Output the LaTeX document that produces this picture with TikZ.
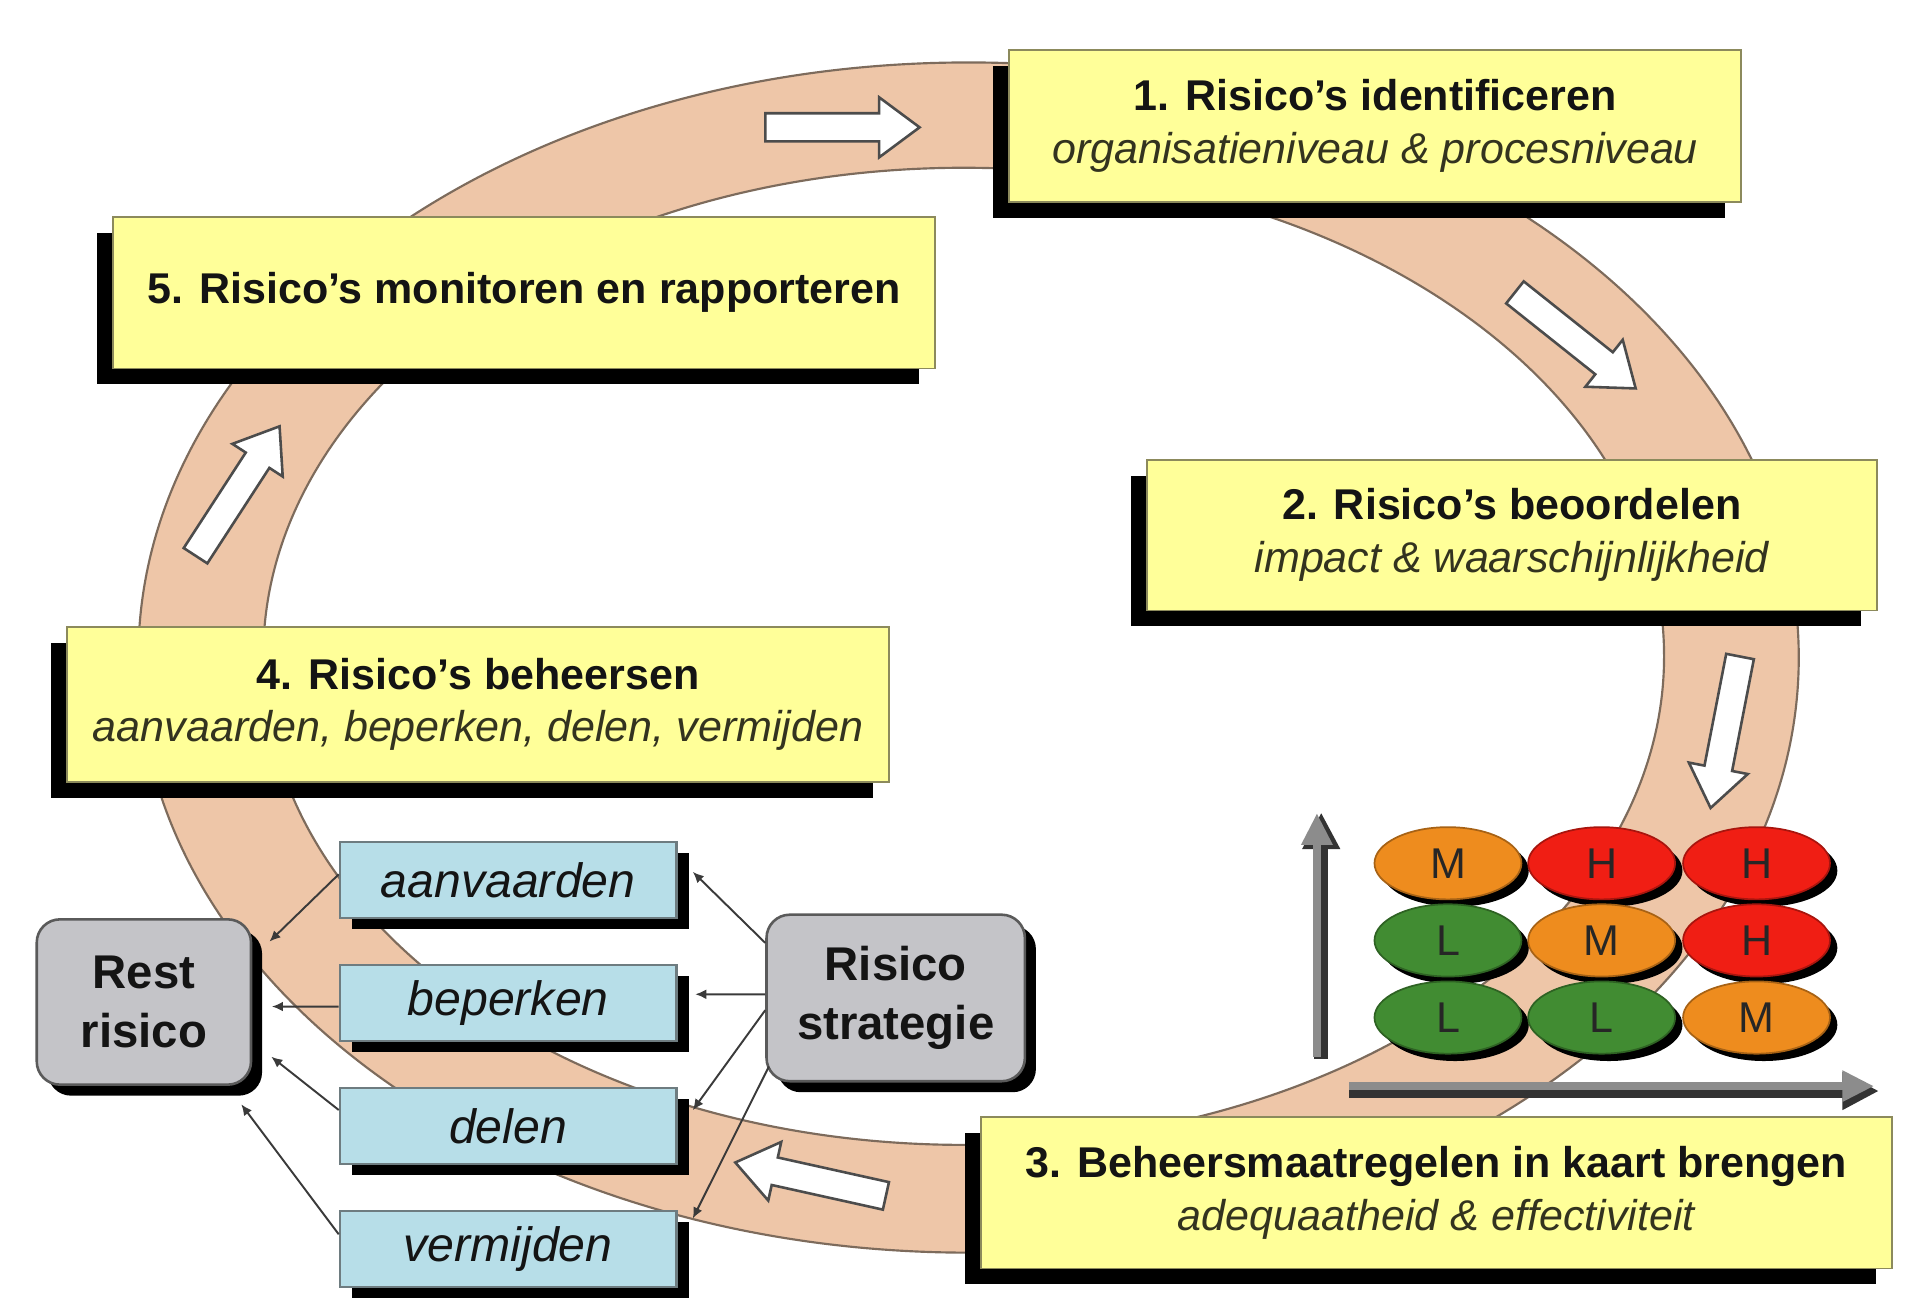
\documentclass[tikz,border=0pt]{standalone}
\usepackage{fontspec}
\setmainfont{Liberation Sans}
\usetikzlibrary{shapes.geometric,shadows,arrows.meta}
\definecolor{peach}{HTML}{EEC6A8}
\definecolor{ringline}{HTML}{7D6B5C}
\definecolor{ylw}{HTML}{FFFF99}
\definecolor{ylwline}{HTML}{8C8A5C}
\definecolor{blu}{HTML}{B7DEE8}
\definecolor{bluline}{HTML}{6E7C80}
\definecolor{gry}{HTML}{C4C4C8}
\definecolor{gryline}{HTML}{5A5A5A}
\definecolor{itxt}{HTML}{33331F}
\definecolor{btxt}{HTML}{141414}
\definecolor{morange}{HTML}{EE8C1E}
\definecolor{mred}{HTML}{F01E14}
\definecolor{mgreen}{HTML}{418C32}
\definecolor{conncol}{HTML}{3A3A3A}
\newcommand{\flowarr}[3]{%
  \begin{scope}[shift={(#1,#2)}, rotate=#3]
    \path[flowarrow] (-63,-11.5) -- (30,-11.5) -- (30,-24.5) -- (63,0) -- (30,24.5) -- (30,11.5) -- (-63,11.5) -- cycle;
  \end{scope}}
\begin{document}
\begin{tikzpicture}[x=0.1mm,y=-0.1mm,
  stepbox/.style={draw=ylwline, line width=0.4pt, fill=ylw, inner sep=0pt, align=center,
    font=\fontsize{10}{12.2}\selectfont, text=btxt,
    drop shadow={shadow xshift=-1.3mm, shadow yshift=-1.3mm, fill=black, opacity=1}},
  optbox/.style={draw=bluline, line width=0.5pt, fill=blu, inner sep=0pt,
    minimum width=27.5mm, minimum height=6.2mm, font=\fontsize{11.2}{13}\selectfont\itshape, text=btxt,
    drop shadow={shadow xshift=1mm, shadow yshift=-0.9mm, fill=black, opacity=1}},
  greybox/.style={draw=gryline, line width=0.6pt, fill=gry, rounded corners=1.9mm, inner sep=0pt, align=center,
    font=\fontsize{11}{13.6}\selectfont\bfseries, text=btxt,
    drop shadow={shadow xshift=0.9mm, shadow yshift=-0.9mm, fill=black, opacity=1}},
  cell/.style={ellipse, draw=#1!70!black, line width=0.4pt, fill=#1, minimum width=12mm, minimum height=5.9mm,
    inner sep=0pt, font=\fontsize{10}{12}\selectfont, text=black!85,
    drop shadow={shadow xshift=0.6mm, shadow yshift=-0.6mm, fill=black, opacity=1}},
  conn/.style={draw=conncol, line width=0.45pt, -{Latex[length=0.9mm,width=0.8mm]}},
  flowarrow/.style={draw=black!70, line width=0.6pt, fill=white, line join=miter},
  axisdark/.style={draw=black!80, line width=1.1mm, -{Triangle[length=3mm,width=2.9mm]}},
  axislight/.style={draw=black!45, line width=0.7mm, -{Triangle[length=2.6mm,width=2.4mm]}},
]
\useasboundingbox (0,0) rectangle (1568,1073);

% ring
\path[fill=peach, draw=ringline, line width=0.5pt, even odd rule]
  (791,537) ellipse [x radius=67.8mm, y radius=48.6mm]
  (787,536) ellipse [x radius=57.2mm, y radius=39.9mm];

% direction arrows on the ring
\flowarr{688}{104}{0}
\flowarr{1286.5}{278}{-38.5}
\flowarr{1409}{598}{-101}
\flowarr{662}{963}{167.5}
\flowarr{194}{401}{57}

% step boxes
\node[stepbox, minimum width=59.8mm, minimum height=12.4mm] (s1) at (1123,103)
  {\textbf{1. Risico’s identificeren}\\\textit{\color{itxt}organisatieniveau \& procesniveau}};
\node[stepbox, minimum width=67.1mm, minimum height=12.4mm] (s5) at (428,239)
  {\textbf{5. Risico’s monitoren en rapporteren}};
\node[stepbox, minimum width=59.6mm, minimum height=12.3mm] (s2) at (1234.6,437)
  {\textbf{2. Risico’s beoordelen}\\\textit{\color{itxt}impact \& waarschijnlijkheid}};
\node[stepbox, minimum width=67.1mm, minimum height=12.66mm] (s4) at (390.5,575.3)
  {\textbf{4. Risico’s beheersen}\\\textit{\color{itxt}aanvaarden, beperken, delen, vermijden}};
\node[stepbox, minimum width=74.4mm, minimum height=12.4mm] (s3) at (1173,974)
  {\textbf{3. Beheersmaatregelen in kaart brengen}\\\textit{\color{itxt}adequaatheid \& effectiviteit}};

% strategy options
\node[optbox] (aanv) at (415,718.5) {aanvaarden};
\node[optbox] (bepe) at (415,819) {beperken};
\node[optbox] (dele) at (415,919.5) {delen};
\node[optbox] (verm) at (415,1020) {vermijden};

% grey boxes
\node[greybox, minimum width=17.5mm, minimum height=13.5mm] (rest) at (117.5,818.3) {Rest\\risico};
\node[greybox, minimum width=21.1mm, minimum height=13.6mm] (strat) at (731.5,815) {Risico\\strategie};

% connectors strategie -> options
\draw[conn] ([yshift=4.5mm]strat.west) -- ([xshift=1.24mm,yshift=0.65mm]aanv.east);
\draw[conn] ([yshift=0.3mm]strat.west) -- ([xshift=1.44mm,yshift=0.7mm]bepe.east);
\draw[conn] ([yshift=-1.0mm]strat.west) -- ([xshift=1.24mm,yshift=1.29mm]dele.east);
\draw[conn] ([xshift=0.3mm,yshift=-5.6mm]strat.west) -- ([xshift=1.24mm,yshift=-0.7mm]verm.north east);

% connectors options -> rest risico
\draw[conn] ([yshift=0.45mm]aanv.west) -- ([xshift=1.4mm,yshift=4.93mm]rest.east);
\draw[conn] ([yshift=-0.3mm]bepe.west) -- ([xshift=1.6mm,yshift=-0.37mm]rest.east);
\draw[conn] ([yshift=1.3mm]dele.west) -- ([xshift=1.55mm,yshift=-4.47mm]rest.east);
\draw[conn] ([yshift=1.2mm]verm.west) -- ([xshift=-0.9mm,yshift=-1.5mm]rest.south east);

% risk matrix axes
\coordinate (yaxS) at (1077,863);
\coordinate (yaxE) at (1077,661.5);
\coordinate (xaxS) at (1102,889);
\coordinate (xaxE) at (1534.5,889);
\draw[axisdark] ([xshift=0.2mm,yshift=-0.2mm]yaxS) -- ([xshift=0.2mm,yshift=-0.2mm]yaxE);
\draw[axislight] ([xshift=-0.15mm]yaxS) -- ([xshift=-0.15mm,yshift=-0.25mm]yaxE);
\draw[axisdark] ([yshift=-0.2mm]xaxS) -- ([yshift=-0.2mm]xaxE);
\draw[axislight] ([yshift=0.2mm]xaxS) -- ([xshift=-0.4mm,yshift=0.2mm]xaxE);

% risk matrix
\node[cell=morange] (m11) at (1182.5,705) {M};
\node[cell=mred]    (m12) at (1308,705) {H};
\node[cell=mred]    (m13) at (1434.5,705) {H};
\node[cell=mgreen]  (m21) at (1182.5,768) {L};
\node[cell=morange] (m22) at (1308,768) {M};
\node[cell=mred]    (m23) at (1434.5,768) {H};
\node[cell=mgreen]  (m31) at (1182.5,831) {L};
\node[cell=mgreen]  (m32) at (1308,831) {L};
\node[cell=morange] (m33) at (1434.5,831) {M};
\end{tikzpicture}
\end{document}
